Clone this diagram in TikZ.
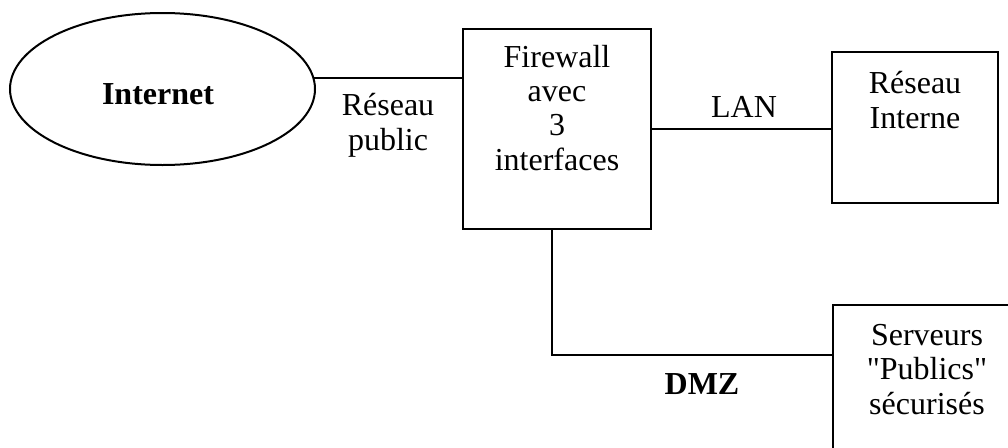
\documentclass[tikz,border=0pt]{standalone}
\usepackage{fontspec}
\setmainfont{Liberation Serif}[Ligatures=TeXOff]
\usetikzlibrary{shapes.geometric}
\begin{document}
\begin{tikzpicture}[x=0.75pt,y=-0.75pt,
  wire/.style={line width=1.5pt},
  box/.style={draw,line width=1.5pt,inner sep=0pt,outer sep=0pt},
  txt/.style={font=\fontsize{24}{25.7}\selectfont,align=center,inner sep=0pt},
  btxt/.style={txt,font=\fontsize{24}{25.7}\selectfont\bfseries}]
\useasboundingbox (0,0) rectangle (1008,447);
\clip (0,0) rectangle (1008,447);

% network elements (text nodes are placed by the baseline of their last line)
\node[box,ellipse,minimum width=228.75pt,minimum height=114pt] (inet) at (162.5,89) {};
\node[btxt,anchor=base] (inetlbl) at (158,104) {Internet};

\node[box,minimum width=141pt,minimum height=150pt] (fw) at (557,129) {};
\node[txt,anchor=base] (fwlbl) at (557,170) {Firewall\\avec\\3\\interfaces};

\node[box,minimum width=124.5pt,minimum height=113.25pt] (ri) at (915,127.5) {};
\node[txt,anchor=base] (rilbl) at (915,128) {Réseau\\Interne};

\node[box,minimum width=141pt,minimum height=116.25pt] (srv) at (927,382.5) {};
\node[txt,anchor=base] (srvlbl) at (927,414) {Serveurs\\"Publics"\\sécurisés};

% links
\draw[wire] (inet.4) -- (inet.4 -| fw.west);
\draw[wire] (fw.east) -- (fw.east -| ri.west);
\coordinate (dmzbend) at (552,355);
\draw[wire] (fw.south -| dmzbend) -- (dmzbend) -- (dmzbend -| srv.west);

% link labels
\node[txt,anchor=base] (publbl) at (388,150) {Réseau\\public};
\node[txt,anchor=base] (lanlbl) at (744,117) {LAN};
\node[btxt,anchor=base] (dmzlbl) at (702,394) {DMZ};
\end{tikzpicture}
\end{document}
